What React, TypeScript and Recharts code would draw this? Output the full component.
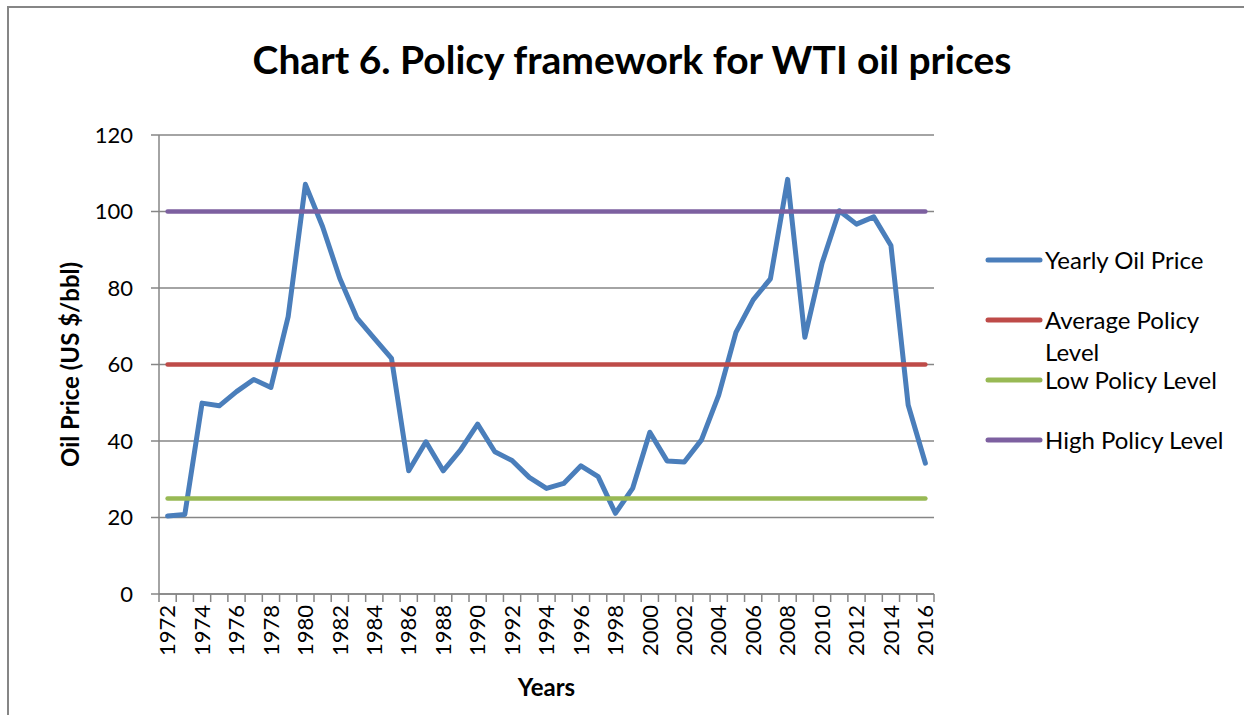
import React from "react";
import { LineChart, Line, XAxis, YAxis, CartesianGrid, Legend, Label } from "recharts";

const YEARS = [
  "1972", "1973", "1974", "1975", "1976", "1977", "1978", "1979", "1980", "1981",
  "1982", "1983", "1984", "1985", "1986", "1987", "1988", "1989", "1990", "1991",
  "1992", "1993", "1994", "1995", "1996", "1997", "1998", "1999", "2000", "2001",
  "2002", "2003", "2004", "2005", "2006", "2007", "2008", "2009", "2010", "2011",
  "2012", "2013", "2014", "2015", "2016",
];

// yearly WTI price, US $/bbl
const PRICES = [
  20.4, 20.8, 49.9, 49.2, 52.9, 56.1, 54.0, 72.5, 107.1, 96.0,
  82.5, 72.1, 66.8, 61.6, 32.2, 39.8, 32.2, 37.6, 44.4, 37.2,
  34.9, 30.5, 27.6, 28.9, 33.5, 30.7, 21.1, 27.6, 42.3, 34.8,
  34.5, 40.3, 52.0, 68.4, 76.9, 82.4, 108.4, 67.1, 86.5, 100.2,
  96.7, 98.6, 91.1, 49.4, 34.2,
];

const AVERAGE_LEVEL = 60;
const LOW_LEVEL = 25;
const HIGH_LEVEL = 100;

const Y_TICKS = [0, 20, 40, 60, 80, 100, 120];

const SERIES = [
  { key: "price", name: "Yearly Oil Price", color: "#4A7EBB", width: 5 },
  { key: "avg", name: "Average Policy Level", color: "#BE4B48", width: 4.5 },
  { key: "low", name: "Low Policy Level", color: "#98B954", width: 4.5 },
  { key: "high", name: "High Policy Level", color: "#7D60A0", width: 4.5 },
];

const data = YEARS.map((year, i) => ({
  year,
  price: PRICES[i],
  avg: AVERAGE_LEVEL,
  low: LOW_LEVEL,
  high: HIGH_LEVEL,
}));

const GRAY = "#868686";
const FONT = "Lato, 'Open Sans', sans-serif";
const X_TICK_SIZE = 8;
const X_TICK_MARGIN = 3;

function YearTick(props: any) {
  const { x, y, payload, index, visibleTicksCount } = props;
  const half = payload.offset || 8.6;
  const axisY = y - X_TICK_SIZE - X_TICK_MARGIN;
  return (
    <g>
      <line x1={x - half} x2={x - half} y1={axisY} y2={axisY + X_TICK_SIZE} stroke={GRAY} strokeWidth={1.5} />
      {index === visibleTicksCount - 1 && (
        <line x1={x + half} x2={x + half} y1={axisY} y2={axisY + X_TICK_SIZE} stroke={GRAY} strokeWidth={1.5} />
      )}
      {index % 2 === 0 && (
        <text
          x={x}
          y={y}
          transform={`rotate(-90, ${x}, ${y})`}
          textAnchor="end"
          dy="0.35em"
          fontSize={22}
          fill="#000"
        >
          {payload.value}
        </text>
      )}
    </g>
  );
}

function LegendBox(props: any) {
  const order = SERIES.map((s) => s.name);
  const items = [...(props.payload || [])].sort(
    (a: any, b: any) => order.indexOf(a.value) - order.indexOf(b.value)
  );
  return (
    <div style={{ fontFamily: FONT, fontSize: 24, color: "#000" }}>
      {items.map((item: any) => (
        <div key={item.value} style={{ height: 60, display: "flex", alignItems: "flex-start" }}>
          <svg width={61} height={32} style={{ flex: "none" }}>
            <line x1={4} x2={56} y1={16} y2={16} stroke={item.color} strokeWidth={5} strokeLinecap="round" />
          </svg>
          <span style={{ lineHeight: "32px", width: 195 }}>{item.value}</span>
        </div>
      ))}
    </div>
  );
}

export default function App() {
  return (
    <div style={{ position: "absolute", left: 0, top: 0, width: 1244, height: 715, background: "#fff", fontFamily: FONT }}>
      <div
        style={{
          position: "absolute",
          left: 7,
          top: 6,
          width: 1260,
          height: 730,
          border: `2px solid ${GRAY}`,
          boxSizing: "border-box",
        }}
      />
      <div
        style={{
          position: "absolute",
          left: 10,
          top: 34,
          width: 1244,
          textAlign: "center",
          fontSize: 39,
          fontWeight: 700,
          lineHeight: "50px",
          color: "#000",
        }}
      >
        Chart 6. Policy framework for WTI oil prices
      </div>
      <LineChart width={1244} height={715} data={data} margin={{ top: 135, right: 310, bottom: 11, left: 48 }}>
        <CartesianGrid vertical={false} stroke={GRAY} strokeWidth={1.5} />
        <XAxis
          dataKey="year"
          scale="band"
          interval={0}
          height={110}
          tickLine={false}
          tickSize={X_TICK_SIZE}
          tickMargin={X_TICK_MARGIN}
          axisLine={{ stroke: GRAY, strokeWidth: 1.5 }}
          tick={<YearTick />}
        >
          <Label value="Years" position="insideBottom" offset={8} style={{ fontWeight: 700, fontSize: 24, fill: "#000" }} />
        </XAxis>
        <YAxis
          domain={[0, 120]}
          ticks={Y_TICKS}
          width={111}
          tickSize={8}
          tickMargin={18}
          tickLine={{ stroke: GRAY, strokeWidth: 1.5 }}
          axisLine={{ stroke: GRAY, strokeWidth: 1.5 }}
          tick={{ fill: "#000", fontSize: 22 }}
        >
          <Label
            value="Oil Price (US $/bbl)"
            angle={-90}
            position="insideLeft"
            offset={22}
            style={{ textAnchor: "middle", fontWeight: 700, fontSize: 24, fill: "#000" }}
          />
        </YAxis>
        <Legend
          layout="horizontal"
          verticalAlign="middle"
          align="center"
          wrapperStyle={{ left: 984, top: 244, width: 260, height: 240 }}
          content={<LegendBox />}
        />
        {SERIES.map((s) => (
          <Line
            key={s.key}
            type="linear"
            dataKey={s.key}
            name={s.name}
            stroke={s.color}
            strokeWidth={s.width}
            strokeLinecap="round"
            strokeLinejoin="round"
            dot={false}
            activeDot={false}
            isAnimationActive={false}
          />
        ))}
      </LineChart>
    </div>
  );
}
